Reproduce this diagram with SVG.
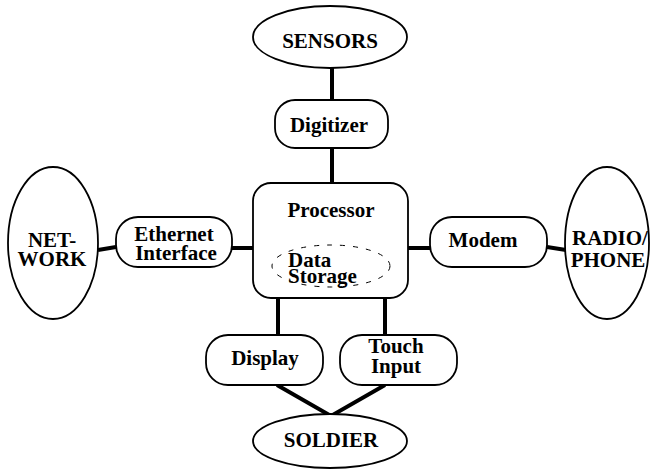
<svg xmlns="http://www.w3.org/2000/svg" width="650" height="472" viewBox="0 0 650 472">
<style>
.s{fill:#fff;stroke:#000;stroke-width:1.8}
.c{stroke:#000;stroke-width:4;fill:none}
text{font-family:"Liberation Serif","Times New Roman",serif;font-weight:bold;font-size:21px;fill:#000}
.m{text-anchor:middle}
</style>
<rect width="650" height="472" fill="#fff"/>
<g id="connectors">
<line class="c" x1="332" y1="68" x2="332" y2="100"/>
<line class="c" x1="332" y1="148" x2="332" y2="183"/>
<line class="c" x1="98" y1="250" x2="116" y2="247"/>
<line class="c" x1="232" y1="248" x2="253" y2="248"/>
<line class="c" x1="408" y1="248" x2="430" y2="248"/>
<line class="c" x1="547" y1="247" x2="566" y2="250"/>
<line class="c" x1="278" y1="298" x2="278" y2="335"/>
<line class="c" x1="385" y1="298" x2="385" y2="335"/>
<polyline class="c" points="277,385 331,416 385,385"/>
</g>
<g id="sensors"><ellipse class="s" cx="330" cy="37" rx="77" ry="31"/><text class="m" x="330" y="48">SENSORS</text></g>
<g id="digitizer"><rect class="s" x="275" y="100" width="113" height="48" rx="20"/><text class="m" x="329" y="132">Digitizer</text></g>
<g id="processor"><rect class="s" x="253" y="183" width="155" height="115" rx="18"/><text class="m" x="331" y="217">Processor</text>
<ellipse cx="331" cy="266" rx="59" ry="21" fill="none" stroke="#000" stroke-width="1" stroke-dasharray="5 8"/>
<text x="288" y="267">Data</text><text x="288" y="283">Storage</text></g>
<g id="network"><ellipse class="s" cx="53" cy="243" rx="45" ry="76"/><text class="m" x="52" y="247">NET-</text><text class="m" x="52" y="266">WORK</text></g>
<g id="ethernet"><rect class="s" x="116" y="217" width="116" height="50" rx="22"/><text class="m" x="174" y="241">Ethernet</text><text class="m" x="176" y="260">Interface</text></g>
<g id="modem"><rect class="s" x="430" y="217" width="117" height="50" rx="22"/><text class="m" x="483" y="247">Modem</text></g>
<g id="radio"><ellipse class="s" cx="607" cy="243" rx="42" ry="76"/><text class="m" x="610" y="245">RADIO/</text><text class="m" x="608" y="267">PHONE</text></g>
<g id="display"><rect class="s" x="206" y="335" width="117" height="50" rx="22"/><text class="m" x="265" y="365">Display</text></g>
<g id="touch"><rect class="s" x="340" y="335" width="117" height="50" rx="22"/><text class="m" x="396" y="353">Touch</text><text class="m" x="396" y="373">Input</text></g>
<g id="soldier"><ellipse class="s" cx="330" cy="441" rx="77" ry="27"/><text class="m" x="331" y="447">SOLDIER</text></g>
</svg>
